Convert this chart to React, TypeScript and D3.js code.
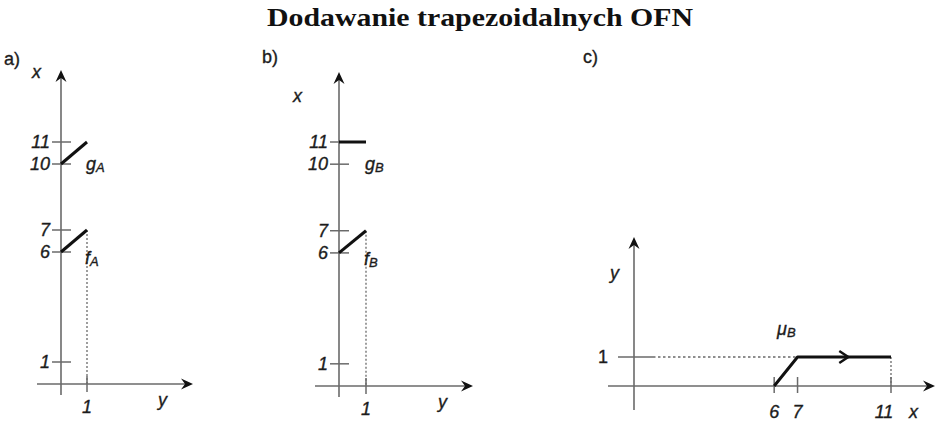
import React from "react";
import * as d3 from "d3";

// Fuzzy numbers as (membership y, value x) pairs for panels a) and b)
const ticksX = [1, 6, 7, 10, 11];
const fA: [number, number][] = [[0, 6], [1, 7]];
const gA: [number, number][] = [[0, 10], [1, 11]];
const fB: [number, number][] = [[0, 6], [1, 7]];
const gB: [number, number][] = [[0, 11], [1, 11]];
// Membership function of the sum in panel c) as (x, y)
const muB: [number, number][] = [[6, 0], [7, 1], [11, 1]];
const ticksC = [6, 7, 11];

const W = 936;
const H = 422;
const AXIS = "#6a6a6a";
const INK = "#111";
const LABEL = "#1c1c1c";
const FONT = "'Liberation Sans', Arial, sans-serif";
const FS = 18;

// Stealth-style arrowhead with the tip at (x, y), rotated by angle (deg, 0 = pointing right)
function Arrow({ x, y, angle }: { x: number; y: number; angle: number }) {
  return (
    <path
      d="M0,0 L-12,-5.5 L-8,0 L-12,5.5 Z"
      transform={`translate(${x},${y}) rotate(${angle})`}
      fill={INK}
    />
  );
}

function Label({
  x,
  y,
  children,
  anchor = "start",
  italic = true,
}: {
  x: number;
  y: number;
  children: React.ReactNode;
  anchor?: "start" | "middle" | "end";
  italic?: boolean;
}) {
  return (
    <text
      x={x}
      y={y}
      textAnchor={anchor}
      fontFamily={FONT}
      fontStyle={italic ? "italic" : "normal"}
      fontSize={FS}
      fill={LABEL}
      stroke={LABEL}
      strokeWidth={0.35}
    >
      {children}
    </text>
  );
}

function Sub({ x, y, main, sub }: { x: number; y: number; main: string; sub: string }) {
  return (
    <Label x={x} y={y}>
      {main}
      <tspan fontSize={13} dy={2}>{sub}</tspan>
    </Label>
  );
}

type PanelProps = {
  ox: number; // position of vertical axis
  oy: number; // position of horizontal axis
  top: number; // pixel row of x = 11
  tip: number; // tip of the vertical arrow
  unitY: number; // px per membership unit
  f: [number, number][];
  g: [number, number][];
  letter: string;
  letterPos: [number, number];
  tag: string;
  xLabel: [number, number];
  hStart: number;
  hEnd: number;
};

function Panel({ ox, oy, top, tip, unitY, f, g, letter, letterPos, tag, xLabel, hStart, hEnd }: PanelProps) {
  const sx = d3.scaleLinear().domain([0, 11]).range([oy, top]);
  const sy = d3.scaleLinear().domain([0, 1]).range([ox, ox + unitY]);
  const line = d3
    .line<[number, number]>()
    .x((d) => sy(d[0]))
    .y((d) => sx(d[1]));
  const fEnd = f[f.length - 1];
  return (
    <g>
      {/* axes */}
      <line x1={ox} x2={ox} y1={oy + 11} y2={tip + 4} stroke={AXIS} strokeWidth={1.6} />
      <Arrow x={ox} y={tip} angle={-90} />
      <line x1={hStart} x2={hEnd - 3} y1={oy} y2={oy} stroke={AXIS} strokeWidth={1.6} />
      <Arrow x={hEnd} y={oy} angle={0} />
      {/* x ticks on the vertical axis */}
      {ticksX.map((t) => (
        <g key={t}>
          <line x1={ox - 9} x2={ox + 10} y1={sx(t)} y2={sx(t)} stroke={AXIS} strokeWidth={1.5} />
          <Label x={ox - 11} y={sx(t) + 6} anchor="end">
            {t}
          </Label>
        </g>
      ))}
      {/* y = 1 tick */}
      <line x1={sy(1)} x2={sy(1)} y1={oy - 8} y2={oy + 8} stroke={AXIS} strokeWidth={1.5} />
      <Label x={sy(1)} y={oy + 29} anchor="middle">
        1
      </Label>
      <line
        x1={sy(fEnd[0])}
        x2={sy(fEnd[0])}
        y1={sx(fEnd[1])}
        y2={oy}
        stroke={AXIS}
        strokeWidth={1.3}
        strokeDasharray="2,2"
      />
      {/* fuzzy numbers */}
      <path d={line(f) ?? ""} stroke={INK} strokeWidth={3} fill="none" />
      <path d={line(g) ?? ""} stroke={INK} strokeWidth={3} fill="none" />
      <Sub x={sy(1) - 2} y={sx(6) + 12} main="f" sub={tag} />
      <Sub x={sy(1) - 1} y={sx(10) + 6} main="g" sub={tag} />
      {/* axis names */}
      <Label x={xLabel[0]} y={xLabel[1]}>
        x
      </Label>
      <Label x={hEnd - 35} y={oy + 22}>
        y
      </Label>
      <Label x={letterPos[0]} y={letterPos[1]} italic={false}>
        {letter}
      </Label>
    </g>
  );
}

function PanelC() {
  const ox = 634;
  const oy = 386;
  const sx = d3.scaleLinear().domain([0, 11]).range([ox, 891]);
  const sy = d3.scaleLinear().domain([0, 1]).range([oy, 357]);
  const line = d3
    .line<[number, number]>()
    .x((d) => sx(d[0]))
    .y((d) => sy(d[1]));
  const peak = muB[1];
  const last = muB[muB.length - 1];
  const midX = (sx(peak[0]) + sx(last[0])) / 2 + 4;
  return (
    <g>
      <line x1={ox} x2={ox} y1={410} y2={241} stroke={AXIS} strokeWidth={1.6} />
      <Arrow x={ox} y={237} angle={-90} />
      <line x1={608} x2={932} y1={oy} y2={oy} stroke={AXIS} strokeWidth={1.6} />
      <Arrow x={935} y={oy} angle={0} />
      {/* y = 1 level */}
      <line x1={618} x2={653} y1={sy(1)} y2={sy(1)} stroke={AXIS} strokeWidth={1.5} />
      <line x1={653} x2={sx(peak[0])} y1={sy(1)} y2={sy(1)} stroke={AXIS} strokeWidth={1.3} strokeDasharray="2.5,2.5" />
      <Label x={603} y={sy(1) + 6} anchor="middle" italic={false}>
        1
      </Label>
      {/* x ticks */}
      {ticksC.map((t) => (
        <g key={t}>
          <line x1={sx(t)} x2={sx(t)} y1={oy - 9} y2={oy + 7} stroke={AXIS} strokeWidth={1.5} />
          <Label x={sx(t) - (t === 11 ? 7 : 0)} y={418} anchor="middle">
            {t}
          </Label>
        </g>
      ))}
      <line x1={sx(last[0])} x2={sx(last[0])} y1={sy(1)} y2={oy} stroke={AXIS} strokeWidth={1.3} strokeDasharray="2,2" />
      {/* membership function */}
      <path d={line(muB) ?? ""} stroke={INK} strokeWidth={3} fill="none" strokeLinejoin="round" />
      <path
        d="M-9,-6 L0,0 L-9,6"
        transform={`translate(${midX},${sy(1)})`}
        stroke={INK}
        strokeWidth={2.5}
        fill="none"
      />
      <Sub x={777} y={335} main="μ" sub="B" />
      <Label x={610} y={279}>
        y
      </Label>
      <Label x={909} y={418}>
        x
      </Label>
      <Label x={583} y={63} italic={false}>
        c)
      </Label>
    </g>
  );
}

export default function App() {
  return (
    <svg width={W} height={H} style={{ display: "block", position: "absolute", left: 0, top: 0 }}>
      <rect width={W} height={H} fill="#fff" />
      <text
        x={480}
        y={26}
        textAnchor="middle"
        fontFamily="'Liberation Serif', 'DejaVu Serif', serif"
        fontWeight="bold"
        fontSize={25}
        textLength={426}
        lengthAdjust="spacingAndGlyphs"
        fill="#111"
      >
        Dodawanie trapezoidalnych OFN
      </text>
      <Panel
        ox={61}
        oy={384}
        top={142}
        tip={70}
        unitY={26}
        f={fA}
        g={gA}
        letter="a)"
        letterPos={[4, 65]}
        tag="A"
        xLabel={[32, 78]}
        hStart={37}
        hEnd={193}
      />
      <Panel
        ox={339}
        oy={386}
        top={142}
        tip={72}
        unitY={27}
        f={fB}
        g={gB}
        letter="b)"
        letterPos={[262, 63]}
        tag="B"
        xLabel={[293, 102]}
        hStart={315}
        hEnd={473}
      />
      <PanelC />
    </svg>
  );
}
